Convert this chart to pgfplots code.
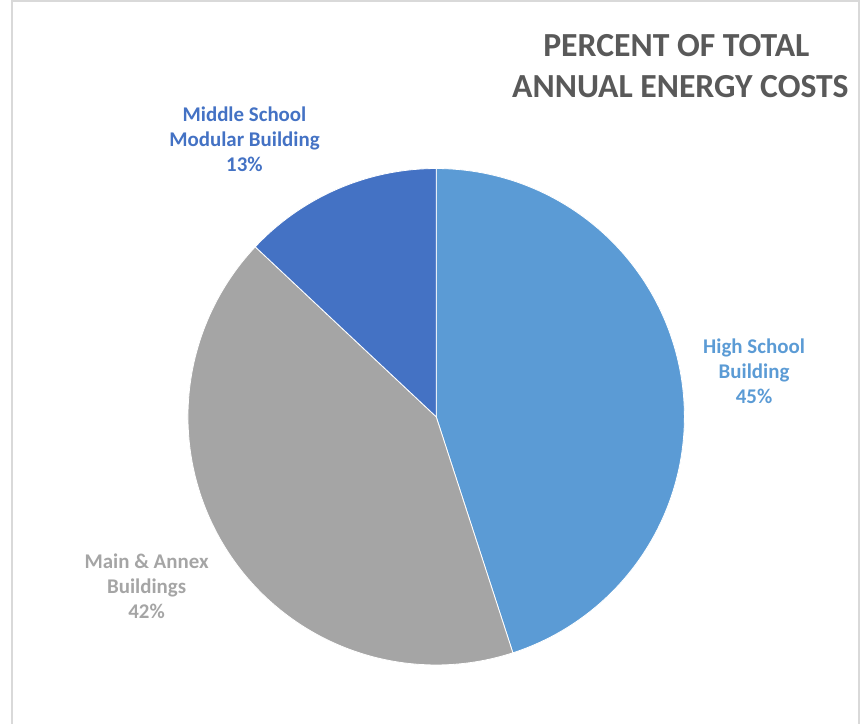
\documentclass[border=0pt]{standalone}
\usepackage{pgfplots}
\usepackage{pgfplotstable}
\pgfplotsset{compat=1.18}
\usepackage{fontspec}
\setmainfont{Carlito}
\definecolor{hs}{HTML}{5B9BD5}
\definecolor{ma}{HTML}{A5A5A5}
\definecolor{ms}{HTML}{4472C4}
\definecolor{tt}{HTML}{595959}
\definecolor{fr}{HTML}{D9D9D9}
\pgfplotstableread{
name value
High 45
Main 42
Middle 13
}\piedata
\begin{document}
\pgfplotstablegetelem{0}{value}\of\piedata \let\va\pgfplotsretval
\pgfplotstablegetelem{1}{value}\of\piedata \let\vb\pgfplotsretval
\pgfplotstablegetelem{2}{value}\of\piedata \let\vc\pgfplotsretval
\pgfmathsetmacro\aA{90}
\pgfmathsetmacro\aB{\aA-3.6*\va}
\pgfmathsetmacro\aC{\aB-3.6*\vb}
\pgfmathsetmacro\aD{\aC-3.6*\vc}
\def\cx{437}\def\cy{304}\def\R{246}
\begin{tikzpicture}
\begin{axis}[width=860bp,height=723bp,scale only axis,
  xmin=0,xmax=860,ymin=0,ymax=723,hide axis,clip=false]
% frame
\draw[fr,line width=2bp] (axis cs:17,0) -- (axis cs:17,716) -- (axis cs:856,716) -- (axis cs:856,0);
% wedges
\addplot[fill=hs,draw=white,line width=0.8bp,domain=\aB:\aA,samples=120,variable=\t]
  ({\cx+\R*cos(\t)},{\cy+\R*sin(\t)}) -- (axis cs:\cx,\cy) -- cycle;
\addplot[fill=ma,draw=white,line width=0.8bp,domain=\aC:\aB,samples=120,variable=\t]
  ({\cx+\R*cos(\t)},{\cy+\R*sin(\t)}) -- (axis cs:\cx,\cy) -- cycle;
\addplot[fill=ms,draw=white,line width=0.8bp,domain=\aD:\aC,samples=60,variable=\t]
  ({\cx+\R*cos(\t)},{\cy+\R*sin(\t)}) -- (axis cs:\cx,\cy) -- cycle;
% title
\node[anchor=base,text=tt,font=\fontsize{33.5}{40}\selectfont\bfseries] at (axis cs:675,661) {PERCENT OF TOTAL};
\node[anchor=base,text=tt,font=\fontsize{33.5}{40}\selectfont\bfseries] at (axis cs:679,620) {ANNUAL ENERGY COSTS};
% labels
\begin{scope}[every node/.style={anchor=base,font=\fontsize{20.8}{25}\selectfont\bfseries}]
\node[text=ms] at (axis cs:247,597) {Middle School};
\node[text=ms] at (axis cs:247,572) {Modular Building};
\node[text=ms] at (axis cs:247,547) {\vc\%};
\node[text=hs] at (axis cs:752,367) {High School};
\node[text=hs] at (axis cs:752,342) {Building};
\node[text=hs] at (axis cs:752,317) {\va\%};
\node[text=ma] at (axis cs:150,154) {Main \& Annex};
\node[text=ma] at (axis cs:150,129) {Buildings};
\node[text=ma] at (axis cs:150,104) {\vb\%};
\end{scope}
\end{axis}
\end{tikzpicture}
\end{document}
